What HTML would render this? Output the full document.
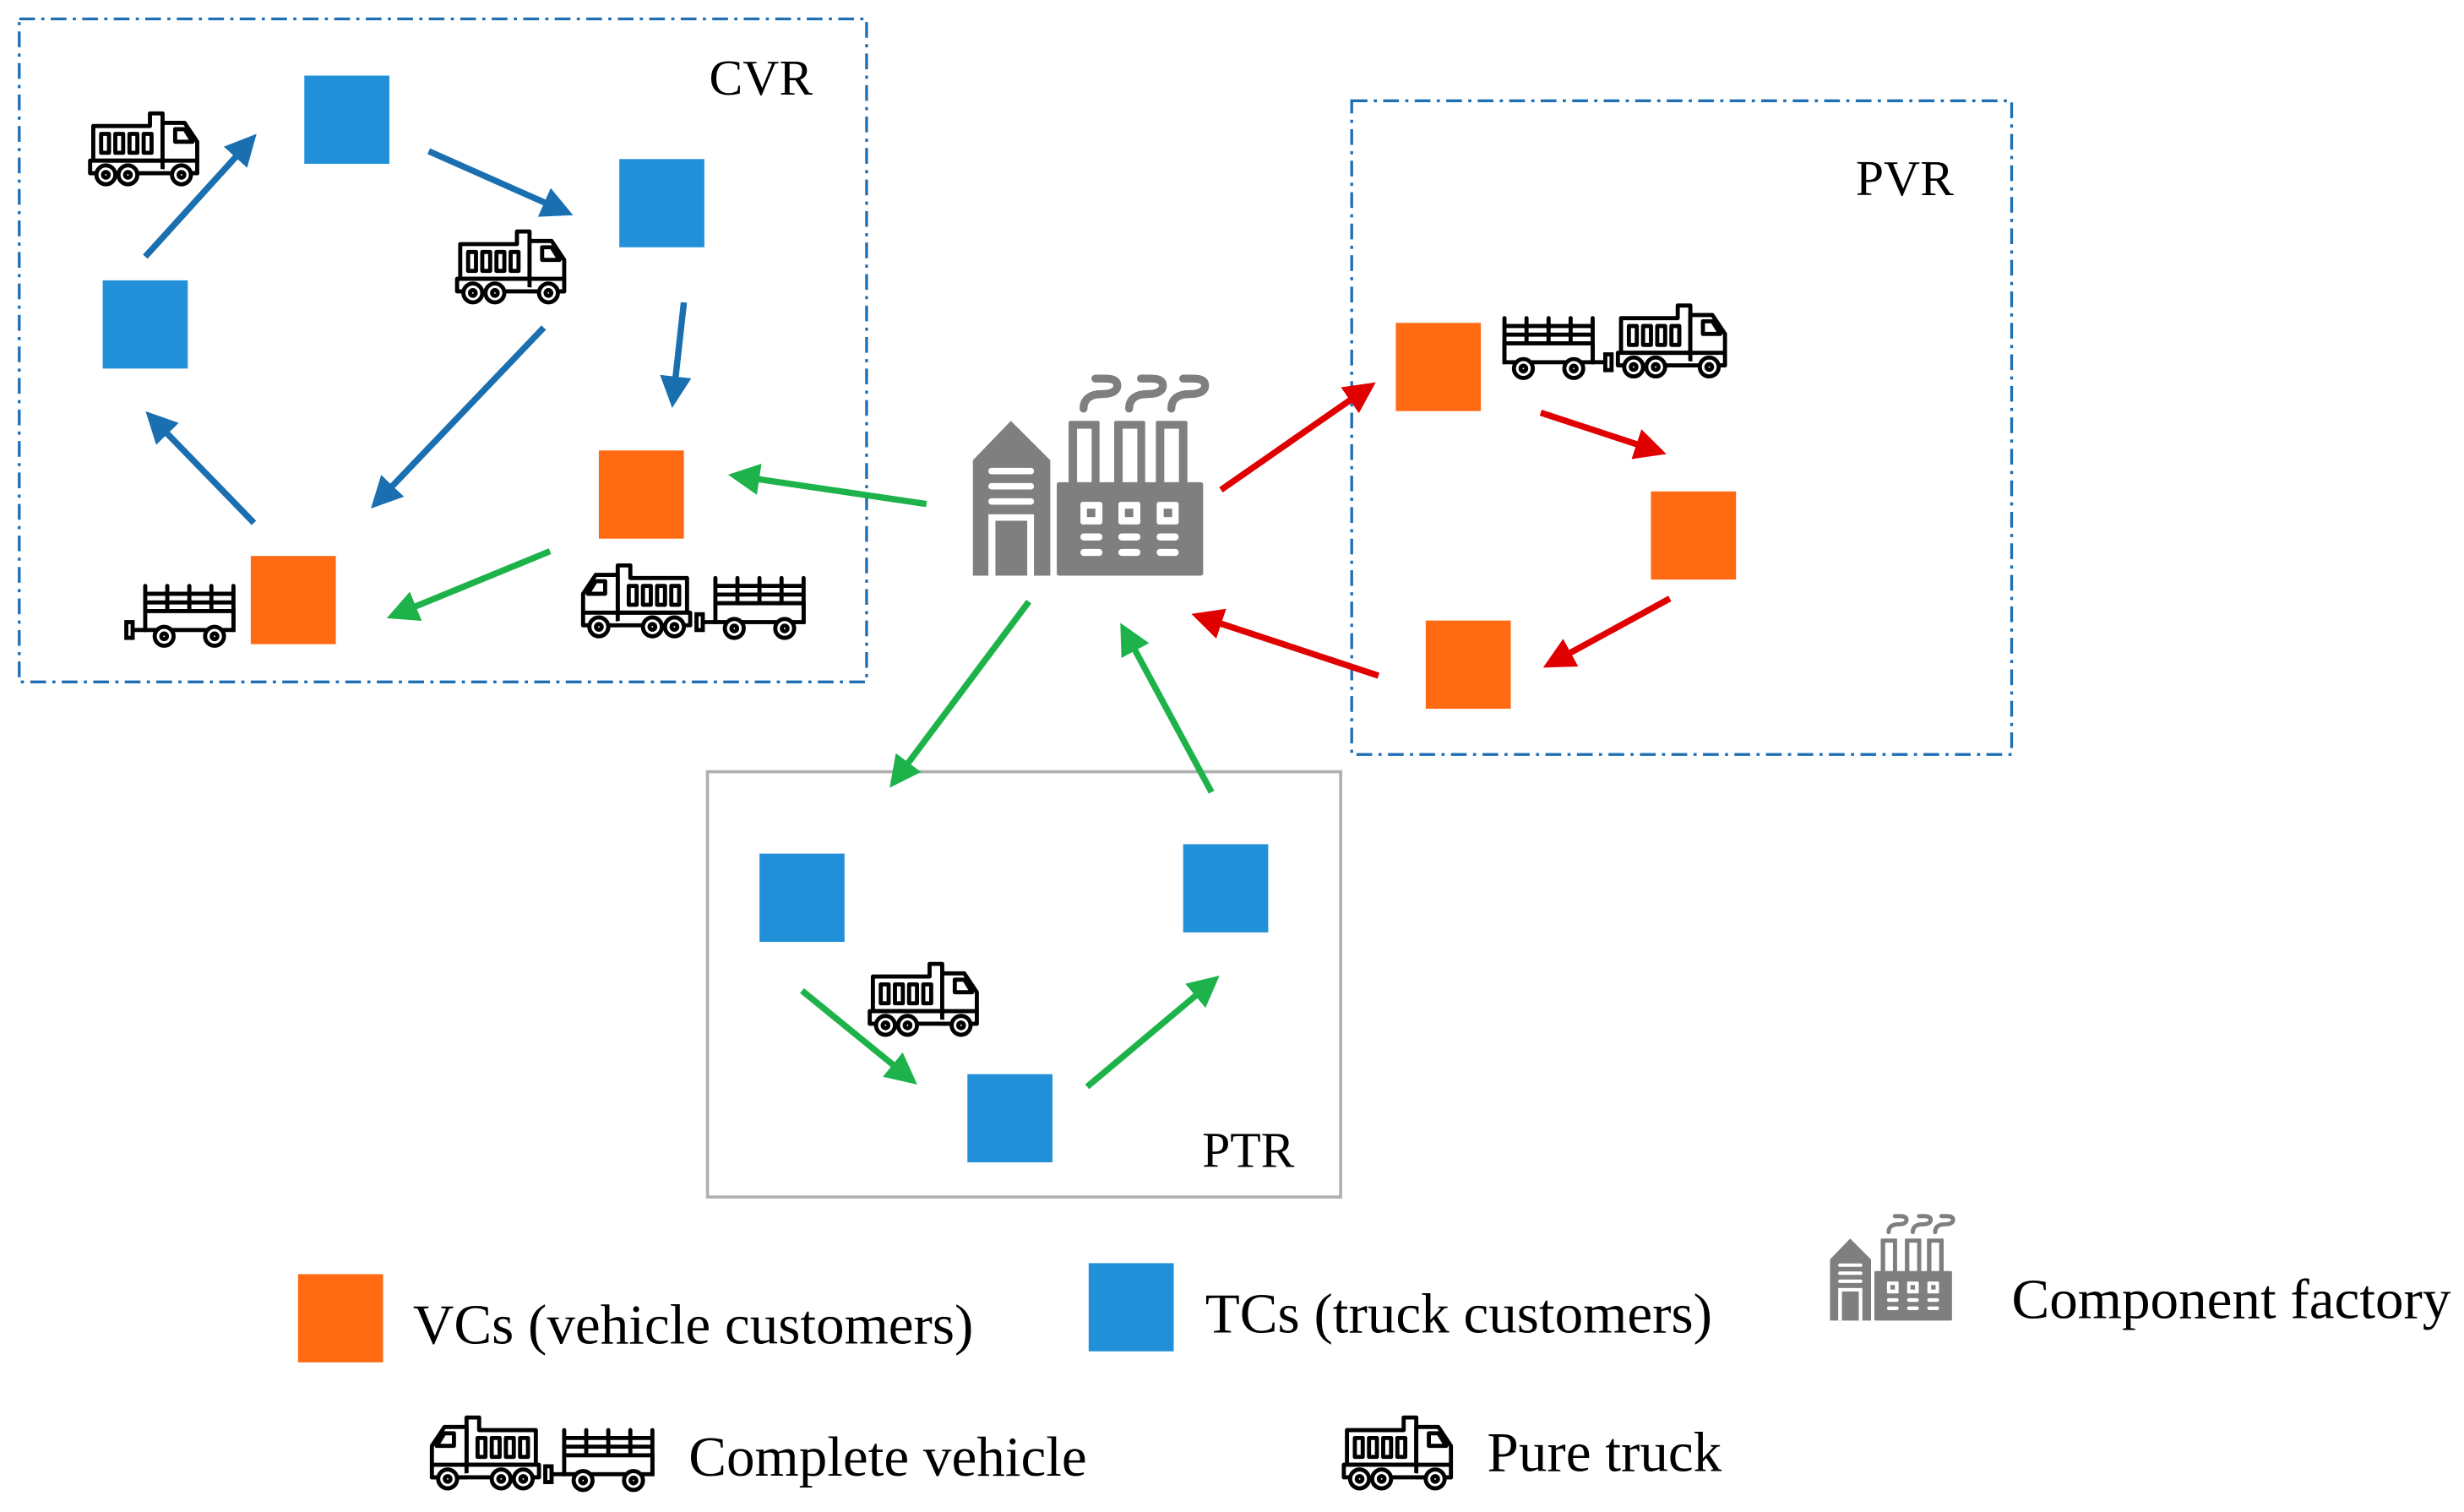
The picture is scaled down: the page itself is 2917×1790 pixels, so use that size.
<!DOCTYPE html>
<html><head><meta charset="utf-8"><style>html,body{margin:0;padding:0;background:#fff}svg{display:block}</style></head>
<body>
<svg width="2917" height="1790" viewBox="0 0 1564 960" xmlns="http://www.w3.org/2000/svg">
<defs>
<marker id="mb" markerWidth="5" markerHeight="5" refX="4" refY="2.5" orient="auto" markerUnits="strokeWidth"><path d="M0,0 L5,2.5 L0,5 Z" fill="#1a6fb0"/></marker>
<marker id="mg" markerWidth="5" markerHeight="5" refX="4" refY="2.5" orient="auto" markerUnits="strokeWidth"><path d="M0,0 L5,2.5 L0,5 Z" fill="#1db34a"/></marker>
<marker id="mr" markerWidth="5" markerHeight="5" refX="4" refY="2.5" orient="auto" markerUnits="strokeWidth"><path d="M0,0 L5,2.5 L0,5 Z" fill="#e00000"/></marker>
<g id="truck" fill="#fff" stroke="#000" stroke-width="2.6" stroke-linejoin="round" stroke-linecap="round">
<path d="M4 12 H40 V4 H48 V12 V34 H4 Z"/>
<rect x="9" y="17" width="5" height="12"/><rect x="18" y="17" width="5" height="12"/><rect x="27" y="17" width="5" height="12"/><rect x="36" y="17" width="5" height="12"/>
<path d="M48 10 H62 L70 22 V42 H48 Z"/><path d="M56 14 H62 L67 22 H56 Z" fill="none"/>
<path d="M2 34 H70 M2 34 V42 H70"/>
<circle cx="12" cy="43" r="6"/><circle cx="26" cy="43" r="6"/><circle cx="60" cy="43" r="6"/>
<circle cx="12" cy="43" r="1.8"/><circle cx="26" cy="43" r="1.8"/><circle cx="60" cy="43" r="1.8"/>
</g>
<g id="trailer" fill="#fff" stroke="#000" stroke-width="2.6" stroke-linecap="round">
<path d="M14 2 V30 M70 2 V30 M28 2 V18 M42 2 V18 M56 2 V18 M14 7 H70 M14 12.5 H70 M14 18 H70"/>
<rect x="14" y="18" width="56" height="12"/>
<path d="M2 30 H14"/><rect x="2" y="25" width="4" height="10"/>
<circle cx="26" cy="34" r="6"/><circle cx="58" cy="34" r="6"/><circle cx="26" cy="34" r="1.8"/><circle cx="58" cy="34" r="1.8"/>
</g>
<g id="cv"><use href="#truck" transform="translate(72,0) scale(-1,1)"/><use href="#trailer" transform="translate(72,10)"/></g>
<g id="factory">
<path d="M155 375 L290 235 L430 375 V785 H155 Z" fill="#7f7f7f"/>
<g fill="#fff"><rect x="210" y="402" width="162" height="23" rx="11"/><rect x="210" y="456" width="162" height="23" rx="11"/><rect x="210" y="510" width="162" height="23" rx="11"/><rect x="210" y="567" width="162" height="218"/></g>
<rect x="235" y="590" width="113" height="195" fill="#7f7f7f"/>
<g fill="#7f7f7f"><rect x="495" y="235" width="110" height="230" rx="6"/><rect x="657" y="235" width="110" height="230" rx="6"/><rect x="805" y="235" width="112" height="230" rx="6"/><rect x="453" y="453" width="520" height="332" rx="8"/></g>
<g fill="#fff"><rect x="525" y="263" width="52" height="190"/><rect x="687" y="263" width="52" height="190"/><rect x="835" y="263" width="52" height="190"/>
<rect x="537" y="523" width="78" height="80" rx="8"/><rect x="672" y="523" width="78" height="80" rx="8"/><rect x="808" y="523" width="78" height="80" rx="8"/>
<rect x="537" y="635" width="78" height="25" rx="12"/><rect x="672" y="635" width="78" height="25" rx="12"/><rect x="808" y="635" width="78" height="25" rx="12"/>
<rect x="537" y="690" width="78" height="25" rx="12"/><rect x="672" y="690" width="78" height="25" rx="12"/><rect x="808" y="690" width="78" height="25" rx="12"/></g>
<g fill="#7f7f7f"><rect x="560" y="547" width="30" height="30"/><rect x="695" y="547" width="30" height="30"/><rect x="833" y="547" width="30" height="30"/></g>
<g fill="none" stroke="#7f7f7f" stroke-width="28" stroke-linecap="round">
<path d="M548 192 C548 155 575 140 612 140 C650 140 668 128 668 110 C668 92 652 85 625 85 L590 85"/>
<path d="M710 192 C710 155 737 140 774 140 C812 140 830 128 830 110 C830 92 814 85 787 85 L752 85"/>
<path d="M860 192 C860 155 887 140 924 140 C962 140 980 128 980 110 C980 92 964 85 937 85 L902 85"/>
</g>
</g>
</defs>

<g fill="none" stroke="#1f6fb5" stroke-width="1.8" stroke-dasharray="10,4,2,4">
<rect x="12" y="12" width="538" height="421"/>
<rect x="858" y="64" width="419" height="415"/>
</g>
<rect x="449" y="490" width="402" height="270" fill="none" stroke="#b0b0b0" stroke-width="2"/>

<g font-family="Liberation Serif, serif" font-size="32" fill="#000">
<text x="450" y="60">CVR</text><text x="1178" y="124">PVR</text><text x="763" y="741">PTR</text>
</g>

<g fill="#2190d9">
<rect x="193" y="48" width="54" height="56"/><rect x="393" y="101" width="54" height="56"/><rect x="65" y="178" width="54" height="56"/>
<rect x="482" y="542" width="54" height="56"/><rect x="751" y="536" width="54" height="56"/><rect x="614" y="682" width="54" height="56"/>
<rect x="691" y="802" width="54" height="56"/>
</g>
<g fill="#ff6a13">
<rect x="380" y="286" width="54" height="56"/><rect x="159" y="353" width="54" height="56"/>
<rect x="886" y="205" width="54" height="56"/><rect x="1048" y="312" width="54" height="56"/><rect x="905" y="394" width="54" height="56"/>
<rect x="189" y="809" width="54" height="56"/>
</g>

<g stroke="#1a6fb0" stroke-width="4" marker-end="url(#mb)">
<line x1="92" y1="163" x2="160" y2="88"/><line x1="272" y1="96" x2="360" y2="135"/><line x1="434" y1="192" x2="427" y2="255"/><line x1="345" y1="208" x2="238" y2="320"/><line x1="161" y1="332" x2="95" y2="264"/>
</g>
<g stroke="#1db34a" stroke-width="4" marker-end="url(#mg)">
<line x1="588" y1="320" x2="466" y2="302"/><line x1="349" y1="350" x2="249" y2="391"/><line x1="653" y1="382" x2="567" y2="497"/><line x1="769" y1="503" x2="713" y2="399"/><line x1="509" y1="629" x2="579" y2="686"/><line x1="690" y1="690" x2="771" y2="622"/>
</g>
<g stroke="#e00000" stroke-width="4" marker-end="url(#mr)">
<line x1="775" y1="311" x2="870" y2="245"/><line x1="978" y1="262" x2="1054" y2="287"/><line x1="1060" y1="380" x2="983" y2="422"/><line x1="875" y1="429" x2="760" y2="391"/>
</g>

<use href="#factory" transform="translate(589.8,225.2) scale(0.1787)"/>
<use href="#factory" transform="translate(1147,764.1) scale(0.0947)"/>
<use href="#truck" transform="translate(55,68)"/>
<use href="#truck" transform="translate(288,143)"/>
<use href="#truck" transform="translate(550,608)"/>
<use href="#truck" transform="translate(851,896)"/>
<use href="#trailer" transform="translate(78,370)"/>
<use href="#cv" transform="translate(368,355)"/>
<use href="#cv" transform="translate(272,896)"/>
<g transform="translate(951,190)"><use href="#trailer" transform="translate(74,10) scale(-1,1)"/><use href="#truck" transform="translate(74,0)"/></g>

<g font-family="Liberation Serif, serif" font-size="36" fill="#000">
<text x="262" y="853">VCs (vehicle customers)</text>
<text x="765" y="846">TCs (truck customers)</text>
<text x="1277" y="837">Component factory</text>
<text x="437" y="937">Complete vehicle</text>
<text x="944" y="934">Pure truck</text>
</g>
</svg>
</body></html>
